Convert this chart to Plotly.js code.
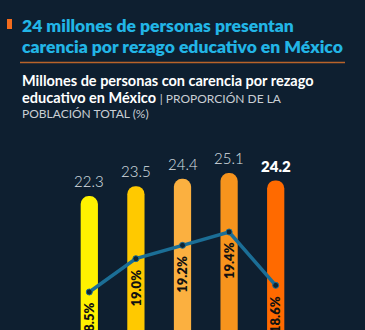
<!DOCTYPE html>
<html>
<head>
<meta charset="utf-8">
<script src="https://cdn.plot.ly/plotly-3.0.1.min.js"></script>
<style>
html,body{margin:0;padding:0;background:#0e1f30;}
#chart{width:365px;height:330px;}
</style>
</head>
<body>
<div id="chart"></div>
<script>
const years = ['2016', '2018', '2020', '2022', '2024'];
const millones = [22.3, 23.5, 24.4, 25.1, 24.2];
const proporcion = [18.5, 19.0, 19.2, 19.4, 18.6];
const barColors = ['#fff200', '#ffc900', '#fbb040', '#f7941d', '#ff6a00'];
const titleLines = ['24 millones de personas presentan', 'carencia por rezago educativo en México'];

const P = p => (330 - p) / 200; // pixel row -> paper y

const bars = {
  type: 'bar', x: years, y: millones,
  marker: {color: barColors, cornerradius: 8, line: {width: 0}},
  hoverinfo: 'skip', yaxis: 'y'
};
const line = {
  type: 'scatter', mode: 'lines+markers', x: years, y: proporcion, yaxis: 'y2',
  line: {color: '#1b6e96', width: 3.5},
  marker: {size: 6, color: '#0d2535', line: {color: '#1b6e96', width: 1}},
  hoverinfo: 'skip'
};

const ann = [];
millones.forEach((v, i) => {
  const last = i === millones.length - 1;
  ann.push({
    x: years[i], y: v, xref: 'x', yref: 'y', yanchor: 'bottom', yshift: 4,
    text: v.toFixed(1), showarrow: false,
    font: {family: 'Lato', size: 15, color: last ? '#ffffff' : '#dde1e6', weight: last ? 800 : 300}
  });
});
proporcion.forEach((v, i) => {
  ann.push({
    x: years[i], y: v, xref: 'x', yref: 'y2', yanchor: 'middle', yshift: -29,
    text: v.toFixed(1) + '%', showarrow: false, textangle: -90,
    font: {family: 'Lato', size: 13, color: '#111111', weight: 800}
  });
});
const leftText = (txt, row, font) => ann.push({
  xref: 'paper', yref: 'paper', x: 20/365, y: P(row), xanchor: 'left', yanchor: 'middle', align: 'left',
  text: txt, showarrow: false, font: font
});
const titleFont = {family: 'Lato', size: 17.5, color: '#22b5e6', weight: 800};
leftText(titleLines[0], 25, titleFont);
leftText(titleLines[1], 46, titleFont);
const subFont = {family: 'Lato', size: 14.5, color: '#ffffff'};
const caps = 'color:#c9ced4;font-size:12px;font-weight:400';
leftText('<b>Millones de personas con carencia por rezago</b>', 81, subFont);
leftText('<b>educativo en México</b> <span style="' + caps + '">| PROPORCIÓN DE LA</span>', 97.5, subFont);
leftText('<span style="' + caps + '">POBLACIÓN TOTAL (%)</span>', 114, subFont);

const layout = {
  width: 365, height: 330,
  paper_bgcolor: '#0e1f30', plot_bgcolor: '#0e1f30',
  margin: {l: 0, r: 0, t: 130, b: 0},
  showlegend: false, bargap: 0.63,
  xaxis: {domain: [66/365, 299/365], showticklabels: false, showgrid: false, zeroline: false, showline: false, ticks: ''},
  yaxis: {range: [6.0, 30.35], showticklabels: false, showgrid: false, zeroline: false, showline: false},
  yaxis2: {range: [17.93, 20.93], overlaying: 'y', showticklabels: false, showgrid: false, zeroline: false, showline: false},
  shapes: [
    {type: 'rect', xref: 'paper', yref: 'paper', x0: 7/365, x1: 12/365, y0: P(29), y1: P(19), fillcolor: '#f26b1d', line: {width: 0}},
    {type: 'line', xref: 'paper', yref: 'paper', x0: 20/365, x1: 345/365, y0: P(62.5), y1: P(62.5), line: {color: '#b8632a', width: 1.5}}
  ],
  annotations: ann
};
Plotly.newPlot('chart', [bars, line], layout, {displayModeBar: false, staticPlot: true});
</script>
</body>
</html>
